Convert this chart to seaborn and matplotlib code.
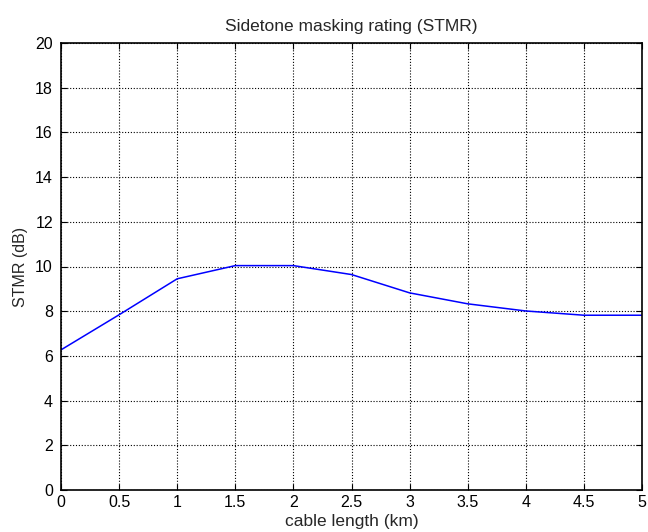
import matplotlib
matplotlib.use("Agg")
import matplotlib.pyplot as plt
import seaborn as sns
import pandas as pd

cable_km = [0, 0.5, 1, 1.5, 2, 2.5, 3, 3.5, 4, 4.5, 5]
stmr_db = [6.27, 7.84, 9.45, 10.04, 10.04, 9.64, 8.82, 8.33, 8.01, 7.82, 7.82]
x_ticks = [0, 0.5, 1, 1.5, 2, 2.5, 3, 3.5, 4, 4.5, 5]
x_tick_labels = ["0", "0.5", "1", "1.5", "2", "2.5", "3", "3.5", "4", "4.5", "5"]
y_ticks = [0, 2, 4, 6, 8, 10, 12, 14, 16, 18, 20]

sns.set_style("white")
plt.rcParams['font.family'] = ['Liberation Sans', 'DejaVu Sans']

df = pd.DataFrame({"cable length (km)": cable_km, "STMR (dB)": stmr_db})

fig = plt.figure(figsize=(6.48, 5.32), dpi=100)
ax = fig.add_axes([61/648, 1-490/532, (642-61)/648, (490-43)/532])
sns.lineplot(data=df, x="cable length (km)", y="STMR (dB)", ax=ax,
             color="#0000ff", linewidth=1.1)

ax.set_xlim(0, 5)
ax.set_ylim(0, 20)
ax.set_xticks(x_ticks)
ax.set_xticklabels(x_tick_labels)
ax.set_yticks(y_ticks)
ax.grid(True, color="black", linestyle=(0, (1, 1.6)), linewidth=0.8)
for s in ax.spines.values():
    s.set_color("black")
    s.set_linewidth(1.2)
    s.set_visible(True)
ax.tick_params(direction="in", length=4, width=0.8, colors="black",
               labelsize=11.5, top=True, right=True, bottom=True, left=True)
ax.tick_params(axis="x", pad=3.6)
ax.tick_params(axis="y", pad=5.8)
ax.set_xlabel("cable length (km)", fontsize=12.5, labelpad=3)
ax.set_ylabel("STMR (dB)", fontsize=11.5, labelpad=5)
ax.set_title("Sidetone masking rating (STMR)", fontsize=12.5, pad=8.5)

fig.savefig("out.png", dpi=100)
